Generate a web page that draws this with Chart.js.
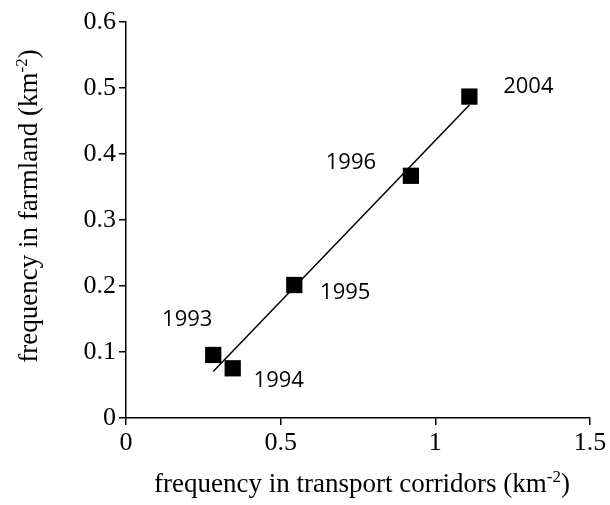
<!DOCTYPE html>
<html>
<head>
<meta charset="utf-8">
<title>frequency in farmland vs transport corridors</title>
<script src="https://cdn.jsdelivr.net/npm/chart.js@4.4.1/dist/chart.umd.min.js"></script>
<style>
  html, body { margin: 0; padding: 0; background: #fff; }
  #wrap { width: 610px; height: 505px; }
</style>
</head>
<body>
<div id="wrap"><canvas id="chart" width="610" height="505"></canvas></div>
<script>
// ── DATA ────────────────────────────────────────
const years     = ['1993', '1994', '1995', '1996', '2004'];
const corridors = [0.282, 0.345, 0.544, 0.921, 1.110];   // x, km-2
const farmland  = [0.0955, 0.0753, 0.2015, 0.367, 0.487]; // y, km-2
const xTicks    = [0, 0.5, 1, 1.5];
const yTicks    = [0, 0.1, 0.2, 0.3, 0.4, 0.5, 0.6];

// label offsets from their point (px)
const labelOffsets = [[-26, -35], [46, 12], [51, 8], [-60, -13], [59, -10]];

// ── LINEAR TREND ────────────────────────────────
const n  = corridors.length;
const mx = corridors.reduce((a, b) => a + b, 0) / n;
const my = farmland.reduce((a, b) => a + b, 0) / n;
let sxy = 0, sxx = 0;
corridors.forEach((x, i) => { sxy += (x - mx) * (farmland[i] - my); sxx += (x - mx) * (x - mx); });
const slope = sxy / sxx;
const icept = my - slope * mx;
const xMin = Math.min(...corridors), xMax = Math.max(...corridors);
const trend = [xMin, xMax].map(x => ({ x, y: icept + slope * x }));

const SERIF = "'Liberation Serif', 'Times New Roman', serif";
const SANS  = "'Open Sans', 'Noto Sans', sans-serif";

// ── PLUGIN: year labels + axis titles with superscript ──
const extras = {
  id: 'extras',
  afterDatasetsDraw(chart) {
    const { ctx, scales: { x, y } } = chart;
    ctx.save();
    ctx.fillStyle = '#000';
    ctx.font = `22px ${SANS}`;
    ctx.textAlign = 'center';
    ctx.textBaseline = 'middle';
    years.forEach((yr, i) => {
      const [dx, dy] = labelOffsets[i];
      ctx.fillText(yr, x.getPixelForValue(corridors[i]) + dx, y.getPixelForValue(farmland[i]) + dy);
    });
    ctx.restore();
  },
  afterDraw(chart) {
    const { ctx, chartArea: a } = chart;
    const drawTitle = (main, cx, cy, rot) => {
      ctx.save();
      ctx.translate(cx, cy);
      ctx.rotate(rot);
      ctx.fillStyle = '#000';
      ctx.textBaseline = 'alphabetic';
      ctx.textAlign = 'left';
      const big = `27px ${SERIF}`, small = `17px ${SERIF}`;
      ctx.font = big;
      const w1 = ctx.measureText(main).width;
      const w3 = ctx.measureText(')').width;
      ctx.font = small;
      const w2 = ctx.measureText('-2').width;
      let px = -(w1 + w2 + w3) / 2;
      ctx.font = big;  ctx.fillText(main, px, 0); px += w1;
      ctx.font = small; ctx.fillText('-2', px, -10); px += w2;
      ctx.font = big;  ctx.fillText(')', px, 0);
      ctx.restore();
    };
    drawTitle('frequency in transport corridors (km', (a.left + a.right) / 2 + 4, 492, 0);
    drawTitle('frequency in farmland (km', 37, (a.top + a.bottom) / 2 - 14, -Math.PI / 2);
  }
};

// ── CHART ───────────────────────────────────────
const axisCommon = {
  type: 'linear',
  grid: { display: true, drawOnChartArea: false, drawTicks: true, tickLength: 7, color: '#000', lineWidth: 1.5 },
  border: { display: true, color: '#000', width: 1.5 },
  ticks: { color: '#000', font: { family: SERIF, size: 26 }, padding: 3,
           callback: v => String(+v.toFixed(2)) }
};

new Chart(document.getElementById('chart'), {
  type: 'scatter',
  data: {
    datasets: [
      {
        label: 'trend',
        data: trend,
        showLine: true,
        borderColor: '#000',
        borderWidth: 1.5,
        pointRadius: 0,
        fill: false
      },
      {
        label: 'years',
        data: corridors.map((x, i) => ({ x, y: farmland[i] })),
        pointStyle: 'rect',
        pointRadius: 11.5,
        backgroundColor: '#000',
        borderColor: '#000',
        borderWidth: 0
      }
    ]
  },
  options: {
    responsive: false,
    animation: false,
    layout: { padding: { top: 22, right: 20, left: 0, bottom: 0 } },
    plugins: { legend: { display: false }, tooltip: { enabled: false } },
    scales: {
      x: {
        ...axisCommon,
        min: 0, max: 1.5,
        afterBuildTicks: s => { s.ticks = xTicks.map(value => ({ value })); },
        afterFit: s => { s.height = 87; }
      },
      y: {
        ...axisCommon,
        min: 0, max: 0.6,
        afterBuildTicks: s => { s.ticks = yTicks.map(value => ({ value })); },
        afterFit: s => { s.width = 126; }
      }
    }
  },
  plugins: [extras]
});
</script>
</body>
</html>
